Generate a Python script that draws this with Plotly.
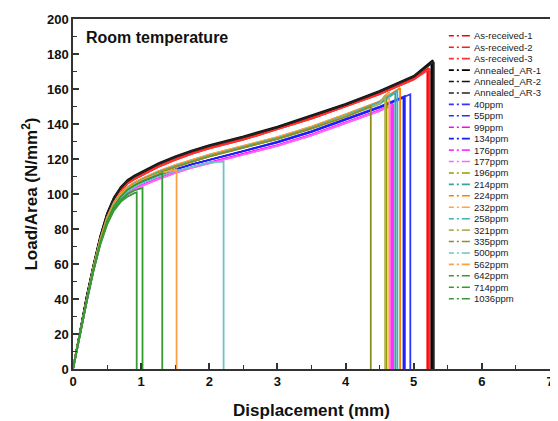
import plotly.graph_objects as go

# Displacement grid (mm) shared by all curves
disp_grid = [0, 0.1, 0.2, 0.3, 0.4, 0.5, 0.6, 0.7, 0.8, 0.9, 1.0,
             1.25, 1.5, 1.75, 2.0, 2.5, 3.0, 3.5, 4.0, 4.5, 5.0]

names = ["As-received-1", "As-received-2", "As-received-3",
         "Annealed_AR-1", "Annealed_AR-2", "Annealed_AR-3",
         "40ppm", "55ppm", "99ppm", "134ppm", "176ppm", "177ppm",
         "196ppm", "214ppm", "224ppm", "232ppm", "258ppm", "321ppm",
         "335ppm", "500ppm", "562ppm", "642ppm", "714ppm", "1036ppm"]

colors = ["#ff0000", "#ff1a1a", "#ff3333",
          "#000000", "#111111", "#222222",
          "#3333ff", "#2b2bff", "#ff00ff", "#1a1aff", "#ff33ff", "#ff66ff",
          "#999900", "#33a3a3", "#ff8000", "#ffa347", "#40b0b0", "#b0b060",
          "#8f8f1f", "#6cc4c4", "#ff9f40", "#339933", "#2e9e2e", "#3a9a3a"]

# Load/Area (N/mm^2) at the grid points, per specimen
as_received_1 = [0, 21, 40, 58, 74, 87, 96, 102, 106, 108.5, 110.5, 115.5, 119.5, 123, 126, 131, 137, 143, 150, 157, 165.5]
as_received_2 = [0, 21, 40.5, 58.5, 74.5, 87.5, 96.5, 102.5, 106.5, 109, 111, 116, 120, 123.5, 126.5, 131.5, 137.5, 143.5, 150.5, 157.5, 166]
as_received_3 = [0, 20.5, 40, 58, 74, 87, 96, 102, 106, 108.5, 110.5, 115.5, 119.5, 123, 126, 131, 137, 143, 150, 157, 165.5]
annealed_1 = [0, 21, 41, 59, 75.5, 88.5, 97.5, 103.5, 107.5, 110, 112, 117, 121, 124.5, 127.5, 132.5, 138, 144.5, 151, 158.5, 167]
annealed_2 = [0, 21.5, 41.5, 59.5, 76, 89, 98, 104, 108, 110.5, 112.5, 117.5, 121.5, 125, 128, 133, 138.5, 145, 151.5, 159, 167.5]
annealed_3 = [0, 21, 41, 59, 75.5, 88.5, 97.5, 103.5, 107.5, 110, 112, 117, 121, 124.5, 127.5, 132.5, 138, 144.5, 151, 158.5, 167]
ppm_40 = [0, 20, 39, 57, 72.5, 84.5, 93, 98.5, 102, 104.5, 106.5, 110.5, 114, 117, 119.5, 124.5, 129.5, 135.5, 142.5, 149.5]
ppm_55 = [0, 20, 39, 57, 72.5, 84.5, 93, 98.5, 102, 104.5, 106.5, 110.5, 114, 117, 119.5, 124.5, 130, 136, 143, 150]
ppm_99 = [0, 20, 38.5, 56.5, 72, 83.5, 92, 97, 100.5, 103, 105, 109, 112.5, 115.5, 118, 123, 128, 134, 141, 148]
ppm_134 = [0, 20, 39, 57, 72.5, 84.5, 93, 98.5, 102, 104.5, 106.5, 110.5, 114, 117, 119.5, 124.5, 129.5, 135.5, 142.5, 149.5]
ppm_176 = [0, 20, 38.5, 56.5, 72, 83.5, 91.5, 96.5, 100, 102.5, 104.5, 108.5, 112, 115, 117.5, 122.5, 127.5, 133.5, 140.5, 147.5]
ppm_177 = [0, 20, 38.5, 56.5, 72, 83.5, 91.5, 96.5, 100, 102.5, 104.5, 108.5, 112, 115, 117.5, 122.5, 127.5, 133.5, 140.5, 147.5]
ppm_196 = [0, 20, 39, 57.5, 73.5, 85.5, 94, 99.5, 103, 105.5, 107.5, 112, 115.5, 118.5, 121.5, 126.5, 131.5, 137.5, 144.5, 152]
ppm_214 = [0, 20, 39, 57.5, 73.5, 85.5, 94, 99.5, 103, 105.5, 107.5, 112, 115.5, 118.5, 121.5, 126.5, 131.5, 137.5, 144.5, 151.5]
ppm_224 = [0, 20.5, 39.5, 58, 74, 86.5, 95, 100.5, 104, 106.5, 108.5, 113, 116.5, 119.5, 122.5, 127.5, 132.5, 138.5, 145.5, 153]
ppm_232 = [0, 20.5, 39.5, 58, 74, 86.5, 95, 100.5, 104, 106.5, 108.5, 113, 116.5, 119.5, 122.5, 127.5, 132.5, 138.5, 145.5, 152.5]
ppm_258 = [0, 20, 39, 57.5, 73.5, 86, 94.5, 100, 103.5, 106, 108, 112.5, 116, 119, 122, 127, 132, 138, 145, 152.5]
ppm_321 = [0, 20, 39, 57.5, 73.5, 85.5, 94, 99.5, 103, 105.5, 107.5, 112, 115.5, 118.5, 121.5, 126.5, 131.5, 137.5, 144.5, 151.5]
ppm_335 = [0, 20, 39, 57.5, 73.5, 85.5, 94, 99.5, 103, 105.5, 107.5, 112, 115.5, 118.5, 121.5, 126.5, 131.5, 137.5, 144]
ppm_500 = [0, 20, 39, 57, 72.5, 84.5, 92.5, 98, 101.5, 104, 106, 110, 113, 115.5, 118]
ppm_562 = [0, 20, 39, 57.5, 73.5, 85.5, 94, 99.5, 103, 105.5, 107.5, 111.5, 114]
ppm_642 = [0, 20, 39, 57, 72.5, 84.5, 93, 98.5, 102.5, 105, 107, 111]
ppm_714 = [0, 19.5, 38.5, 56, 71.5, 83, 91.5, 96.5, 100, 102, 103.5]
ppm_1036 = [0, 19.5, 38.5, 56, 71, 82.5, 90.5, 95.5, 98.5, 100.5]

series_values = [as_received_1, as_received_2, as_received_3,
                 annealed_1, annealed_2, annealed_3,
                 ppm_40, ppm_55, ppm_99, ppm_134, ppm_176, ppm_177,
                 ppm_196, ppm_214, ppm_224, ppm_232, ppm_258, ppm_321,
                 ppm_335, ppm_500, ppm_562, ppm_642, ppm_714, ppm_1036]

# Fracture point (displacement, load/area) of each specimen
fracture_disp = [5.20, 5.22, 5.235, 5.26, 5.28, 5.295,
                 4.95, 4.87, 4.68, 4.85, 4.70, 4.66,
                 4.60, 4.73, 4.80, 4.64, 4.76, 4.58,
                 4.37, 2.21, 1.52, 1.31, 1.02, 0.935]
fracture_load = [171, 172, 171.5, 175, 176.5, 175.5,
                 157, 156, 151.5, 155, 151, 151,
                 157, 158, 160.5, 158.5, 159, 156.5,
                 150, 118.5, 114, 112, 103.5, 101]

fig = go.Figure()
for name, col, vals, fx, fy in zip(names, colors, series_values, fracture_disp, fracture_load):
    xs = disp_grid[:len(vals)] + [fx, fx]
    ys = vals + [fy, 0]
    fig.add_trace(go.Scatter(x=xs, y=ys, mode="lines", name=name,
                             line=dict(color=col, width=1.8),
                             showlegend=False, hoverinfo="skip"))

# Page offset (browser body margin) and plot frame in window pixels
OFF = 8
W, H = 558 - OFF, 421 - OFF
PL, PR, PT, PB = 73 - OFF, 554 - OFF, 16 - OFF, 370 - OFF
pw, ph = PR - PL, PB - PT

# Custom compact legend (inside plot, top-right)
shapes = []
annotations = []
for i, (name, col) in enumerate(zip(names, colors)):
    yc = 33 - OFF + 11.56 * i
    yp = (PB - yc) / ph
    shapes.append(dict(type="line", xref="paper", yref="paper",
                       x0=(452 - OFF - PL) / pw, x1=(474 - OFF - PL) / pw, y0=yp, y1=yp,
                       line=dict(color=col, width=1.6, dash="5px,3px,2px,3px,8px")))
    annotations.append(dict(xref="paper", yref="paper", x=(475 - OFF - PL) / pw, y=yp,
                            text=name, showarrow=False, xanchor="left", yanchor="middle",
                            font=dict(family="Liberation Sans, Arial", size=9.5, color="#222222")))

annotations.append(dict(xref="paper", yref="paper", x=(84 - OFF - PL) / pw, y=(PB - (35 - OFF)) / ph,
                        text="<b>Room temperature</b>", showarrow=False,
                        xanchor="left", yanchor="middle",
                        font=dict(family="Liberation Sans, Arial", size=16, color="#111111")))

axis_common = dict(showline=True, linecolor="#333333", linewidth=1.5, mirror=True,
                   ticks="inside", ticklen=6, tickwidth=1.5, tickcolor="#333333",
                   showgrid=False, zeroline=False,
                   tickfont=dict(family="Liberation Sans, Arial", size=13, color="#111111", weight="bold"))

fig.update_layout(
    width=W, height=H,
    margin=dict(l=PL, r=W - PR, t=PT, b=H - PB),
    paper_bgcolor="white", plot_bgcolor="white",
    shapes=shapes, annotations=annotations,
    showlegend=False,
    xaxis=dict(range=[0, 7], dtick=1, tick0=0,
               minor=dict(dtick=0.5, ticks="inside", ticklen=4, tickwidth=1.2, tickcolor="#333333"),
               title=dict(text="<b>Displacement (mm)</b>", standoff=16,
                          font=dict(family="Liberation Sans, Arial", size=17, color="#111111")),
               **axis_common),
    yaxis=dict(range=[0, 200], dtick=20, tick0=0,
               minor=dict(dtick=10, ticks="inside", ticklen=4, tickwidth=1.2, tickcolor="#333333"),
               title=dict(text="<b>Load/Area (N/mm<sup>2</sup>)</b>", standoff=5,
                          font=dict(family="Liberation Sans, Arial", size=17, color="#111111")),
               **axis_common),
)

fig.write_html("out.html")
